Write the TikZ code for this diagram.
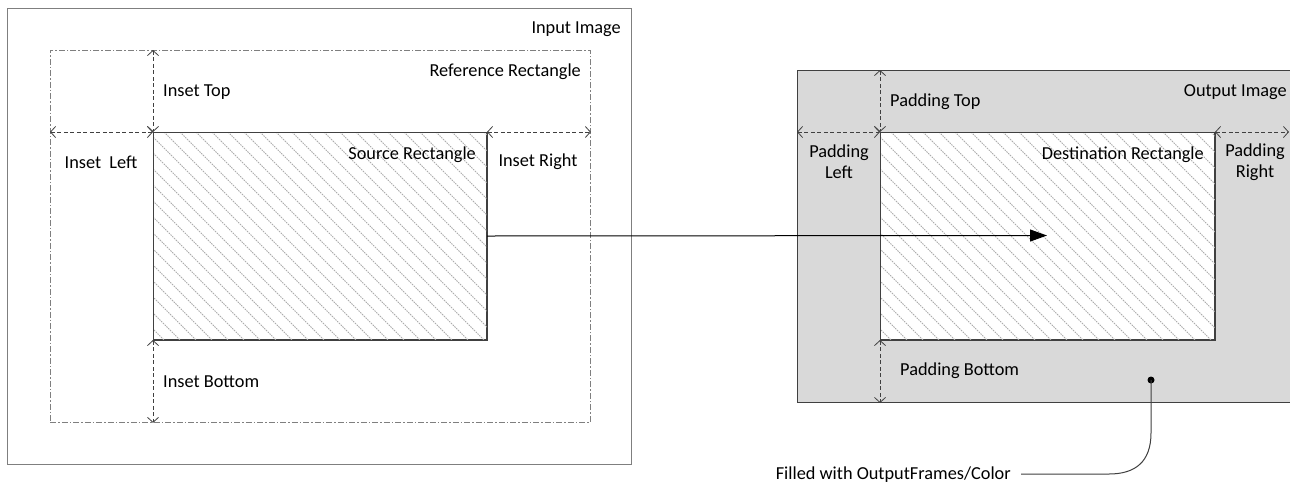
\documentclass[tikz,border=0pt]{standalone}
\usepackage{fontspec}
\setmainfont{Carlito}
\usetikzlibrary{arrows.meta}
\definecolor{frameg}{HTML}{7F7F7F}
\definecolor{lined}{HTML}{404040}
\definecolor{fillg}{HTML}{D9D9D9}
\definecolor{hatchg}{HTML}{ACACAC}
\tikzset{
  box/.style={draw=lined, line width=1pt, inner sep=0pt, anchor=north west},
  lbl/.style={font=\fontsize{18.3}{21}\selectfont, inner sep=0pt, text=black},
  dim/.style={draw=lined, line width=0.8pt, dash pattern=on 4pt off 2.5pt,
     {Straight Barb[length=5pt,width=11pt,line width=0.8pt]}-{Straight Barb[length=5pt,width=11pt,line width=0.8pt]}},
  hatchline/.style={draw=hatchg, line width=1pt, dash pattern=on 1.5pt off 1pt},
  mainarrow/.style={draw=black, line width=1pt, -{Triangle[length=17pt,width=12pt]}},
}
\begin{document}
\begin{tikzpicture}[x=1pt,y=-1pt]
\useasboundingbox (0,0) rectangle (1290,483);
\fill[white] (0,0) rectangle (1290,483);
% Input image
\node[box, draw=frameg, line width=1.3pt, minimum width=624pt, minimum height=456pt] (inimg) at (7,8) {};
% Reference rectangle
\node[box, draw=frameg, line width=0.9pt, dash pattern=on 6pt off 2pt on 1.5pt off 2pt, minimum width=540pt, minimum height=372pt] (ref) at (50,50) {};
% Source rectangle
\node[box, minimum width=333pt, minimum height=207pt] (src) at (153,132) {};
\begin{scope}
\clip (src.north west) rectangle (src.south east);
\foreach \t in {-220,-204,...,500} \draw[hatchline] (\t,132) -- ++(230,230);
\end{scope}
\draw[lined, line width=1pt] (src.north west) rectangle (src.south east);
% Output image
\begin{scope}
\clip (0,0) rectangle (1290,483);
\node[box, fill=fillg, minimum width=493pt, minimum height=332pt] (outimg) at (797,70) {};
\end{scope}
% Destination rectangle
\node[box, fill=white, minimum width=334pt, minimum height=207pt] (dst) at (880,132) {};
\begin{scope}
\clip (dst.north west) rectangle (dst.south east);
\foreach \t in {-220,-204,...,560} \draw[hatchline] (\t+727,132) -- ++(230,230);
\end{scope}
\draw[lined, line width=1pt] (dst.north west) rectangle (dst.south east);
% Dimension arrows left
\draw[dim] (ref.north -| src.west) -- (src.north west);
\draw[dim] (ref.west |- src.north) -- (src.north west);
\draw[dim] (src.north east) -- (ref.east |- src.north);
\draw[dim] (src.south west) -- (ref.south -| src.west);
% Dimension arrows right
\draw[dim] (outimg.north -| dst.west) -- (dst.north west);
\draw[dim] (outimg.west |- dst.north) -- (dst.north west);
\coordinate (padR) at (1289,132);
\draw[dim] (dst.north east) -- (padR);
\draw[dim] (dst.south west) -- (outimg.south -| dst.west);
% Main arrow
\coordinate (tip) at (1047,235.5);
\draw[mainarrow] (src.east) -- (tip);
% Labels left
\node[lbl, anchor=east] (tInImg) at (621,29) {Input Image};
\node[lbl, anchor=east] (tRef) at (581,72) {Reference Rectangle};
\node[lbl, anchor=west] (tTop) at (163,92) {Inset Top};
\node[lbl] (tLeft) at (101,162) {Inset\ \ Left};
\node[lbl, anchor=east] (tSrc) at (476,155) {Source Rectangle};
\node[lbl] (tRight) at (538,162) {Inset Right};
\node[lbl, anchor=west] (tBot) at (163,382) {Inset Bottom};
% Labels right
\node[lbl, anchor=east] (tOut) at (1287,92) {Output Image};
\node[lbl, anchor=west] (tPTop) at (890,102) {Padding Top};
\node[lbl, align=center] (tPLeft) at (839,162) {Padding\\Left};
\node[lbl, anchor=east] (tDst) at (1204,155) {Destination Rectangle};
\node[lbl, align=center] (tPRight) at (1255,162) {Padding\\Right};
\node[lbl, anchor=west] (tPBot) at (900,371) {Padding Bottom};
% Callout
\node[circle, fill=black, inner sep=0pt, minimum size=7pt] (dot) at (1151,380) {};
\node[lbl, anchor=east] (tFill) at (1011,475) {Filled with OutputFrames/Color};
\draw[lined, line width=1pt] (dot.center) -- (1151,433) .. controls (1151,462) and (1135,474) .. (1109,474) -- (1021,474);
\end{tikzpicture}
\end{document}
